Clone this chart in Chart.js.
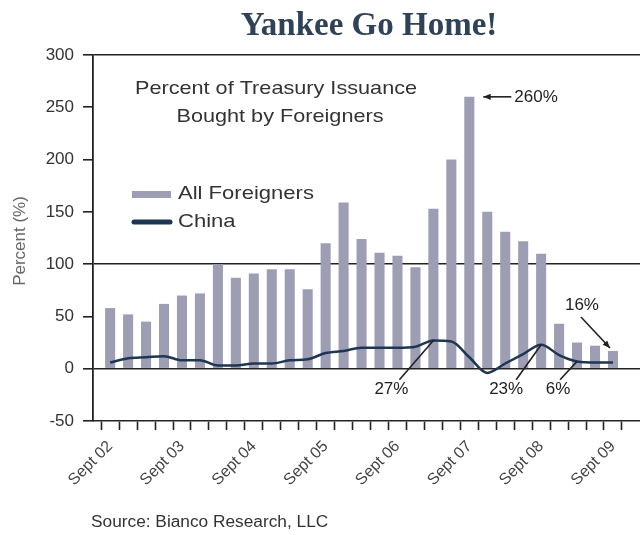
<!DOCTYPE html>
<html>
<head>
<meta charset="utf-8">
<script src="https://cdn.jsdelivr.net/npm/chart.js@4.4.1/dist/chart.umd.min.js"></script>
<style>
  html, body { margin: 0; padding: 0; background: #fff; }
</style>
</head>
<body>
<canvas id="chart" width="640" height="535"></canvas>
<script>
// quarterly, Sept 2002 .. Sept 2009
const quarters = [
    'Sept 02', 'Dec 02', 'Mar 03', 'Jun 03',
    'Sept 03', 'Dec 03', 'Mar 04', 'Jun 04',
    'Sept 04', 'Dec 04', 'Mar 05', 'Jun 05',
    'Sept 05', 'Dec 05', 'Mar 06', 'Jun 06',
    'Sept 06', 'Dec 06', 'Mar 07', 'Jun 07',
    'Sept 07', 'Dec 07', 'Mar 08', 'Jun 08',
    'Sept 08', 'Dec 08', 'Mar 09', 'Jun 09',
    'Sept 09',
];
const foreigners = [58, 52, 45, 62, 70, 72, 100, 87, 91, 95, 95, 76, 120, 159, 124, 111, 108, 97, 153, 200, 260, 150, 131, 122, 110, 43, 25, 22, 17];
const china = [6, 10, 11, 12, 8, 8, 3, 3, 5, 5, 8, 9, 15, 17, 20, 20, 20, 21, 27, 26, 11, -4, 5, 14, 23, 13, 7, 6, 6];
const yTicks = [-50, 0, 50, 100, 150, 200, 250, 300];
const ruledLines = [0, 100, 300];

const barColor = '#9d9db4';
const chinaColor = '#1f3652';
const ink = '#222222';
const sans = "'Liberation Sans', Arial, sans-serif";

const arrow = (ctx, x1, y1, x2, y2, head) => {
    ctx.beginPath();
    ctx.moveTo(x1, y1);
    ctx.lineTo(x2, y2);
    ctx.stroke();
    if (head) {
        const a = Math.atan2(y2 - y1, x2 - x1);
        ctx.beginPath();
        ctx.moveTo(x2, y2);
        ctx.lineTo(x2 - 8 * Math.cos(a - 0.4), y2 - 8 * Math.sin(a - 0.4));
        ctx.lineTo(x2 - 8 * Math.cos(a + 0.4), y2 - 8 * Math.sin(a + 0.4));
        ctx.closePath();
        ctx.fill();
    }
};

// the source artwork is a little wider than a plain Arial, stretch some labels
const wideText = (ctx, text, x, y, sx) => {
    ctx.save();
    ctx.translate(x, y);
    ctx.scale(sx, 1);
    ctx.fillText(text, 0, 0);
    ctx.restore();
};

const decor = {
    id: 'decor',
    afterDraw(chart) {
        const { ctx, scales: { x, y } } = chart;
        const X = (i) => x.getPixelForValue(i);
        const Y = (v) => y.getPixelForValue(v);
        ctx.save();

        // main title
        ctx.fillStyle = '#2f4257';
        ctx.font = "bold 33px 'Liberation Serif', 'DejaVu Serif', serif";
        ctx.textAlign = 'center';
        ctx.textBaseline = 'alphabetic';
        ctx.fillText('Yankee Go Home!', 369, 35);

        // inner title
        ctx.fillStyle = '#333';
        ctx.font = `19px ${sans}`;
        ctx.textBaseline = 'middle';
        wideText(ctx, 'Percent of Treasury Issuance', 276, 89, 1.14);
        wideText(ctx, 'Bought by Foreigners', 280, 117, 1.14);

        // legend
        ctx.textAlign = 'left';
        ctx.fillStyle = barColor;
        ctx.fillRect(132, 191, 39, 7);
        ctx.strokeStyle = chinaColor;
        ctx.lineWidth = 5;
        ctx.lineCap = 'round';
        ctx.beginPath();
        ctx.moveTo(134, 222);
        ctx.lineTo(170, 222);
        ctx.stroke();
        ctx.fillStyle = '#333';
        wideText(ctx, chart.data.datasets[0].label, 178, 194, 1.16);
        wideText(ctx, chart.data.datasets[1].label, 178, 222, 1.16);

        // y axis title
        ctx.save();
        ctx.translate(20, 241);
        ctx.rotate(-Math.PI / 2);
        ctx.textAlign = 'center';
        ctx.fillStyle = '#666';
        ctx.font = `17px ${sans}`;
        ctx.fillText('Percent (%)', 0, 0);
        ctx.restore();

        // callouts
        ctx.lineCap = 'butt';
        ctx.strokeStyle = ink;
        ctx.fillStyle = ink;
        ctx.lineWidth = 1.6;
        ctx.font = `17px ${sans}`;
        const row = Y(0) + 21;

        const peak = foreigners.indexOf(Math.max(...foreigners));
        arrow(ctx, X(peak) + 42, Y(foreigners[peak]), X(peak) + 14, Y(foreigners[peak]), true);
        ctx.textAlign = 'left';
        ctx.fillText('260%', X(peak) + 45, Y(foreigners[peak]));

        ctx.textAlign = 'center';
        arrow(ctx, X(18) - 34, row - 10, X(18), Y(china[18]), false);
        ctx.fillText('27%', X(18) - 42, row);
        arrow(ctx, X(24) - 25, row - 10, X(24), Y(china[24]), false);
        ctx.fillText('23%', X(24) - 35, row);
        arrow(ctx, X(26) - 17, row - 10, X(26), Y(china[26]), false);
        ctx.fillText('6%', X(26) - 19, row);

        const last = foreigners.length - 1;
        arrow(ctx, X(last) - 32, Y(foreigners[last]) - 34, X(last) - 3, Y(foreigners[last]) - 3, true);
        ctx.fillText('16%', X(last) - 31, Y(foreigners[last]) - 46);

        // source
        ctx.textAlign = 'left';
        ctx.textBaseline = 'alphabetic';
        ctx.fillStyle = '#333';
        ctx.font = `16px ${sans}`;
        wideText(ctx, 'Source: Bianco Research, LLC', 91, 527, 1.08);
        ctx.restore();
    }
};

new Chart(document.getElementById('chart'), {
    data: {
        datasets: [
            {
                type: 'bar',
                label: 'All Foreigners',
                data: foreigners.map((v, i) => ({ x: i, y: v })),
                backgroundColor: barColor,
                barPercentage: 0.56,
                categoryPercentage: 1,
                order: 2,
            },
            {
                type: 'line',
                label: 'China',
                data: china.map((v, i) => ({ x: i, y: v })),
                borderColor: chinaColor,
                borderWidth: 2.5,
                pointRadius: 0,
                tension: 0.35,
                cubicInterpolationMode: 'monotone',
                order: 1,
            },
        ],
    },
    options: {
        responsive: false,
        animation: false,
        layout: { padding: { top: 55, left: 0, right: 0, bottom: 0 } },
        plugins: {
            legend: { display: false },
            tooltip: { enabled: false },
        },
        scales: {
            x: {
                type: 'linear',
                min: -0.43,
                max: 28.98,
                afterFit: (s) => { s.height = 114; },
                border: { color: ink, width: 1.6 },
                grid: { drawOnChartArea: false, drawTicks: true, tickLength: 9, tickColor: ink, tickWidth: 1.6 },
                ticks: {
                    stepSize: 1,
                    includeBounds: false,
                    autoSkip: false,
                    minRotation: 45,
                    maxRotation: 45,
                    padding: 7,
                    color: '#444',
                    font: { family: sans, size: 16 },
                    callback: (v) => (quarters[v] && quarters[v].startsWith('Sept') ? quarters[v] : ''),
                },
            },
            y: {
                min: yTicks[0],
                max: yTicks[yTicks.length - 1],
                afterFit: (s) => { s.width = 93; },
                border: { color: ink, width: 1.8 },
                grid: {
                    color: (c) => (ruledLines.includes(c.tick.value) ? ink : 'rgba(0,0,0,0)'),
                    lineWidth: 1.6,
                    drawTicks: true,
                    tickLength: 10,
                    tickColor: ink,
                    tickWidth: 1.6,
                },
                ticks: {
                    stepSize: 50,
                    padding: 9,
                    color: '#333',
                    font: { family: sans, size: 17 },
                },
            },
        },
    },
    plugins: [decor],
});
</script>
</body>
</html>
